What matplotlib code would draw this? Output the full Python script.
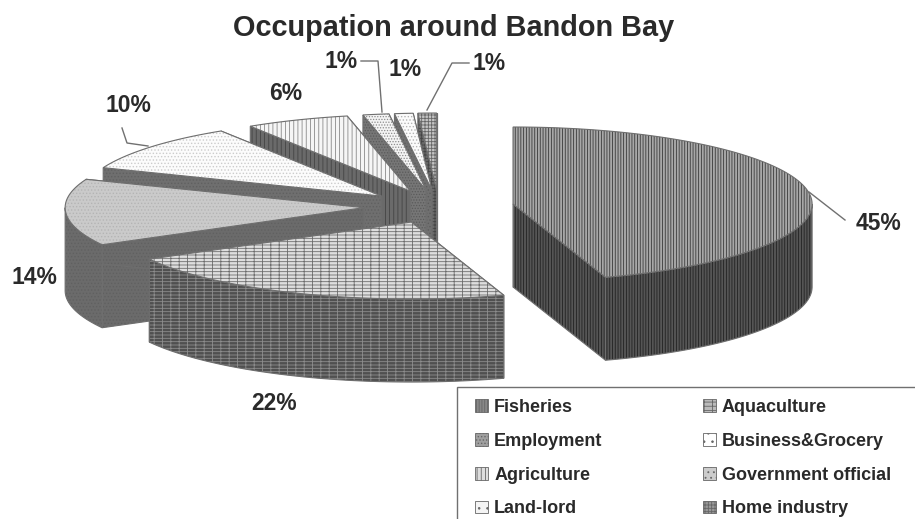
import numpy as np
import matplotlib
matplotlib.use("Agg")
import matplotlib.pyplot as plt
from matplotlib.patches import Polygon, Patch, Rectangle

plt.rcParams['font.family'] = ['Liberation Sans', 'DejaVu Sans']
plt.rcParams['hatch.linewidth'] = 0.6

categories = ['Fisheries', 'Aquaculture', 'Employment', 'Business&Grocery',
              'Agriculture', 'Government official', 'Land-lord', 'Home industry']
shares = [45, 22, 14, 10, 5.6, 1.4, 1.0, 1.0]
pct_labels = ['45%', '22%', '14%', '10%', '6%', '1%', '1%', '1%']

# styles
top_col = ['#a8a8a8', '#dedede', '#cacaca', '#fcfcfc', '#f6f6f6', '#f4f4f4', '#fbfbfb', '#c4c4c4']
top_hat = ['#3a3a3a', '#6e6e6e', '#b4b4b4', '#cccccc', '#8a8a8a', '#8c8c8c', '#b4b4b4', '#666666']
side_col = ['#555555', '#505050', '#6b6b6b', '#6f6f6f', '#6a6a6a', '#767676', '#707070', '#6a6a6a']
side_hat = ['#222222', '#8c8c8c', '#606060', '#606060', '#444444', '#5a5a5a', '#5c5c5c', '#444444']
top_hatch = ['||||||', '---++', '.....', '.....', '||||', '......', '.....', '+++++']
side_hatch = ['||||||', '---++', '.....', '.....', '||||', '......', '.....', '+++++']
leg_hatch = ['||||||', '--++', '.....', '..', '||||', '...', '..', '+++++']
leg_fill = ['#888888', '#bbbbbb', '#a0a0a0', '#ffffff', '#dddddd', '#cccccc', '#f4f4f4', '#999999']

# layout (pixels)
CX, CY, RX, RY, DEPTH = 439.0, 206.6, 299.0, 77.0, 83.0
EXPLODE, EXPLODE_Y = 75.0, 16.6

fig = plt.figure(figsize=(9.15, 5.19), dpi=100)
ax = fig.add_axes([0, 0, 1, 1])
ax.set_xlim(0, 915)
ax.set_ylim(519, 0)
ax.axis('off')

edges = np.cumsum([0] + shares) / 100 * 360.0


def rim(ax0, ay0, a0, a1, dy=0.0):
    th = np.radians(np.linspace(a0, a1, max(int(a1 - a0) * 2, 2) + 1))
    return np.column_stack([ax0 + RX * np.sin(th), ay0 - RY * np.cos(th) + dy])


def face(pts, fc, hc, hatch, z):
    ax.add_patch(Polygon(pts, closed=True, facecolor=fc, edgecolor=hc,
                         hatch=hatch, lw=0, zorder=z))
    ax.add_patch(Polygon(pts, closed=True, fill=False, edgecolor='#6e6e6e',
                         lw=0.8, zorder=z + 0.1))


slices = []
for i in range(len(shares)):
    a0, a1 = edges[i], edges[i + 1]
    mid = np.radians((a0 + a1) / 2)
    slices.append((CY - EXPLODE_Y * np.cos(mid), CX + EXPLODE * np.sin(mid), i, a0, a1))

for order, (ay, ax0, i, a0, a1) in enumerate(sorted(slices)):
    z = 2 + order
    apex = np.array([ax0, ay])
    for ang in (a0, a1):
        p = rim(ax0, ay, ang, ang)[0]
        pts = [apex, p, p + [0, DEPTH], apex + [0, DEPTH]]
        face(pts, side_col[i], side_hat[i], side_hatch[i], z)
    f0, f1 = max(a0, 90), min(a1, 270)
    if f1 > f0:
        up = rim(ax0, ay, f0, f1)
        low = rim(ax0, ay, f0, f1, DEPTH)[::-1]
        face(np.vstack([up, low]), side_col[i], side_hat[i], side_hatch[i], z + 0.2)
    top = np.vstack([apex, rim(ax0, ay, a0, a1)])
    face(top, top_col[i], top_hat[i], top_hatch[i], z + 0.4)

# percentage labels
label_xy = [(879, 223), (274, 403), (34, 277), (128, 106), (286, 93), (341, 62), (405, 70), (489, 64)]
for t, (x, y) in zip(pct_labels, label_xy):
    ax.text(x, y, t, fontsize=16.5, fontweight='bold', color='#2a2a2a',
            ha='center', va='center', zorder=40)

# leader lines
leaders = [[(809, 192), (845, 220)],
           [(122, 128), (127, 143), (148, 146)],
           [(361, 61), (378, 61), (382, 112)],
           [(427, 110), (452, 63), (469, 63)]]
for ln in leaders:
    xs, ys = zip(*ln)
    ax.plot(xs, ys, color='#707070', lw=1.0, zorder=35)

ax.text(454, 28, 'Occupation around Bandon Bay', fontsize=20.8, fontweight='bold',
        color='#2a2a2a', ha='center', va='center', zorder=40)

# legend frame and entries
ax.add_patch(Rectangle((457, 387), 470, 150, facecolor='white', edgecolor='#707070',
                       lw=1.0, zorder=30))
col_order = [0, 2, 4, 6, 1, 3, 5, 7]
handles = [Patch(facecolor=leg_fill[i], edgecolor='#666666', hatch=leg_hatch[i],
                 lw=0.6, label=categories[i]) for i in col_order]
leg = ax.legend(handles=handles, ncol=2, frameon=False,
                loc='upper left', bbox_to_anchor=(461 / 915, 1 - 384.5 / 519),
                handlelength=0.72, handleheight=0.72, handletextpad=0.32,
                labelspacing=0.93, columnspacing=5.57, borderpad=0.3,
                labelcolor='#2a2a2a', prop={'weight': 'bold', 'size': 13})
leg.set_zorder(41)

fig.savefig('out.png', dpi=100, facecolor='white')
